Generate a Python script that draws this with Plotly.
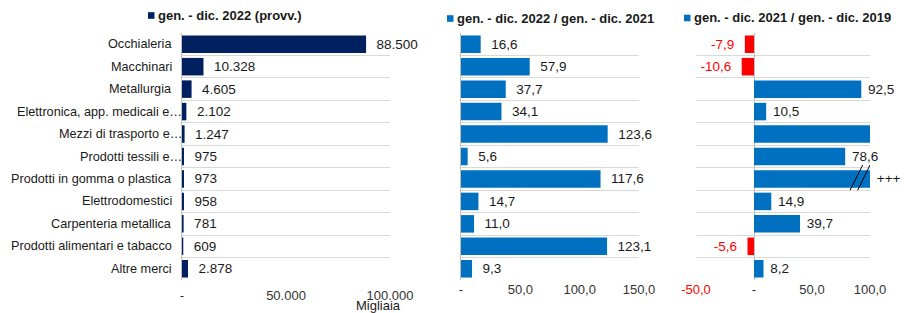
import plotly.graph_objects as go

# ---------------- data ----------------
categories = [
    "Occhialeria",
    "Macchinari",
    "Metallurgia",
    "Elettronica, app. medicali e…",
    "Mezzi di trasporto e…",
    "Prodotti tessili e…",
    "Prodotti in gomma o plastica",
    "Elettrodomestici",
    "Carpenteria metallica",
    "Prodotti alimentari e tabacco",
    "Altre merci",
]
values_2022 = [88500, 10328, 4605, 2102, 1247, 975, 973, 958, 781, 609, 2878]
var_22_21 = [16.6, 57.9, 37.7, 34.1, 123.6, 5.6, 117.6, 14.7, 11.0, 123.1, 9.3]
var_21_19 = [-7.9, -10.6, 92.5, 10.5, 104.0, 78.6, 1000.0, 14.9, 39.7, -5.6, 8.2]
labels_21_19 = ["-7,9", "-10,6", "92,5", "10,5", "", "78,6", "+++", "14,9", "39,7", "-5,6", "8,2"]

title_1 = "gen. - dic. 2022 (provv.)"
title_2 = "gen. - dic. 2022 / gen. - dic. 2021"
title_3 = "gen. - dic. 2021 / gen. - dic. 2019"

x1_ticks = [0, 50000, 100000]
x1_ticktext = ["-", "50.000", "100.000"]
x2_ticks = [0, 50, 100, 150]
x2_ticktext = ["-", "50,0", "100,0", "150,0"]
x3_ticks = [-50, 0, 50, 100]
x3_ticktext = ['<span style="color:#ff0000">-50,0</span>', "-", "50,0", "100,0"]
unit_label = "Migliaia"

# ---------------- styling ----------------
OFF = 0                      # body margin removed by post_script
W, H = 904 - OFF, 313 - OFF  # figure size
TOP, BOT = 33, 280           # plot area in window pixels
NAVY = "#002060"
BLUE = "#0070c0"
RED = "#ff0000"
GRID = "#d9d9d9"
AXLINE = "#bfbfbf"
FONT = "Liberation Sans, Arial, sans-serif"
NB = "\u00a0"


def px(x):
    return (x - OFF) / W


def py(y):
    return (BOT - y) / (BOT - TOP)


def fmt_int(v):
    return f"{v:,.0f}".replace(",", ".")


def fmt_dec(v):
    return f"{v:.1f}".replace(".", ",")


fig = go.Figure()

# panel 1
fig.add_trace(go.Bar(
    x=values_2022, y=categories, orientation="h", width=0.78,
    marker=dict(color=NAVY, line=dict(width=0)),
    text=[NB * 2 + fmt_int(v) for v in values_2022],
    textposition="outside", cliponaxis=False, constraintext="none",
    textfont=dict(family=FONT, size=13.5, color="#1a1a1a"),
    xaxis="x", yaxis="y", hoverinfo="skip",
))

# panel 2
fig.add_trace(go.Bar(
    x=var_22_21, y=categories, orientation="h", width=0.78,
    marker=dict(color=BLUE, line=dict(width=0)),
    text=[NB * 2 + fmt_dec(v) for v in var_22_21],
    textposition="outside", cliponaxis=False, constraintext="none",
    textfont=dict(family=FONT, size=13.5, color="#1a1a1a"),
    xaxis="x2", yaxis="y2", hoverinfo="skip",
))

# panel 3 (bars beyond the axis maximum are drawn up to the axis end)
X3_MAX = 100
shown_21_19 = [min(v, X3_MAX) for v in var_21_19]
colors_3 = [RED if v < 0 else BLUE for v in var_21_19]
text_3 = [(lab + NB * 2) if v < 0 else (NB + lab) if lab else "" for v, lab in zip(var_21_19, labels_21_19)]
fig.add_trace(go.Bar(
    x=shown_21_19, y=categories, orientation="h", width=0.78,
    marker=dict(color=colors_3, line=dict(width=0)),
    text=text_3,
    textposition="outside", cliponaxis=False, constraintext="none",
    textfont=dict(family=FONT, size=13.5, color=[RED if v < 0 else "#1a1a1a" for v in var_21_19]),
    xaxis="x3", yaxis="y3", hoverinfo="skip",
))

yax_common = dict(
    type="category", categoryorder="array", categoryarray=categories,
    autorange="reversed", tickson="boundaries", showgrid=True,
    gridcolor=GRID, gridwidth=1, ticks="", zeroline=False, automargin=False,
    showticklabels=False,
)
xax_common = dict(
    showgrid=False, tickfont=dict(family=FONT, size=13, color="#333"),
    fixedrange=True, automargin=False,
)

fig.update_layout(
    width=W, height=H,
    margin=dict(l=0, r=0, t=TOP - OFF, b=H - (BOT - OFF), autoexpand=False),
    paper_bgcolor="white", plot_bgcolor="white",
    showlegend=False, bargap=0.2,
    font=dict(family=FONT, size=13, color="#1a1a1a"),
    xaxis=dict(**xax_common, anchor="y", domain=[px(182), px(390)], range=[0, 100000],
               tickvals=x1_ticks, ticktext=x1_ticktext, zeroline=False,
               ticks="outside", ticklen=3, tickcolor="rgba(0,0,0,0)"),
    yaxis=dict(**yax_common, anchor="x", showline=True, linecolor=AXLINE, linewidth=1),
    xaxis2=dict(**xax_common, anchor="y2", domain=[px(461), px(639)], range=[0, 150],
                tickvals=x2_ticks, ticktext=x2_ticktext, zeroline=False, ticks=""),
    yaxis2=dict(**yax_common, anchor="x2", showline=True, linecolor=AXLINE, linewidth=1),
    xaxis3=dict(**xax_common, anchor="y3", domain=[px(696), px(870)], range=[-50, 100],
                tickvals=x3_ticks, ticktext=x3_ticktext, zeroline=True, ticks="",
                zerolinecolor=AXLINE, zerolinewidth=1),
    yaxis3=dict(**yax_common, anchor="x3", showline=False),
)

# category labels (truncated ones run up to the axis line, as in the original)
for cat in categories:
    right_edge = 183 if cat.endswith("…") else 173
    fig.add_annotation(text=cat, xref="paper", yref="y", x=px(right_edge), y=cat,
                       xanchor="right", yanchor="middle", showarrow=False,
                       borderpad=0, font=dict(family=FONT, size=12.7, color="#1a1a1a"))

# titles with square markers
titles = [(title_1, NAVY, 148, 15.5), (title_2, BLUE, 447, 18.5), (title_3, BLUE, 684, 18.0)]
for txt, col, x0, yc in titles:
    fig.add_shape(type="rect", xref="paper", yref="paper",
                  x0=px(x0), x1=px(x0 + 6.5), y0=py(yc + 3.3), y1=py(yc - 3.3),
                  fillcolor=col, line=dict(width=0))
    fig.add_annotation(text=f"<b>{txt}</b>", xref="paper", yref="paper",
                       x=px(x0 + 8), y=py(yc), xanchor="left", yanchor="middle",
                       showarrow=False, font=dict(family=FONT, size=13, color="#1a1a1a"))

fig.add_annotation(text=unit_label, xref="paper", yref="paper", x=px(378), y=py(305.5),
                   xanchor="center", yanchor="middle", showarrow=False,
                   font=dict(family=FONT, size=13, color="#1a1a1a"))

# axis-break marks on the overflowing bar
gi = categories.index("Prodotti in gomma o plastica")
for xa, xb in [(82.8, 93.7), (89.4, 100.0)]:
    fig.add_shape(type="line", xref="x3", yref="y3", x0=xa, x1=xb,
                  y0=gi + 0.5, y1=gi - 0.62, line=dict(color="black", width=1))

fig.write_html(
    "out.html",
    config={"displayModeBar": False, "staticPlot": True},
    post_script="document.body.style.margin='0';document.body.style.overflow='hidden';",
)
